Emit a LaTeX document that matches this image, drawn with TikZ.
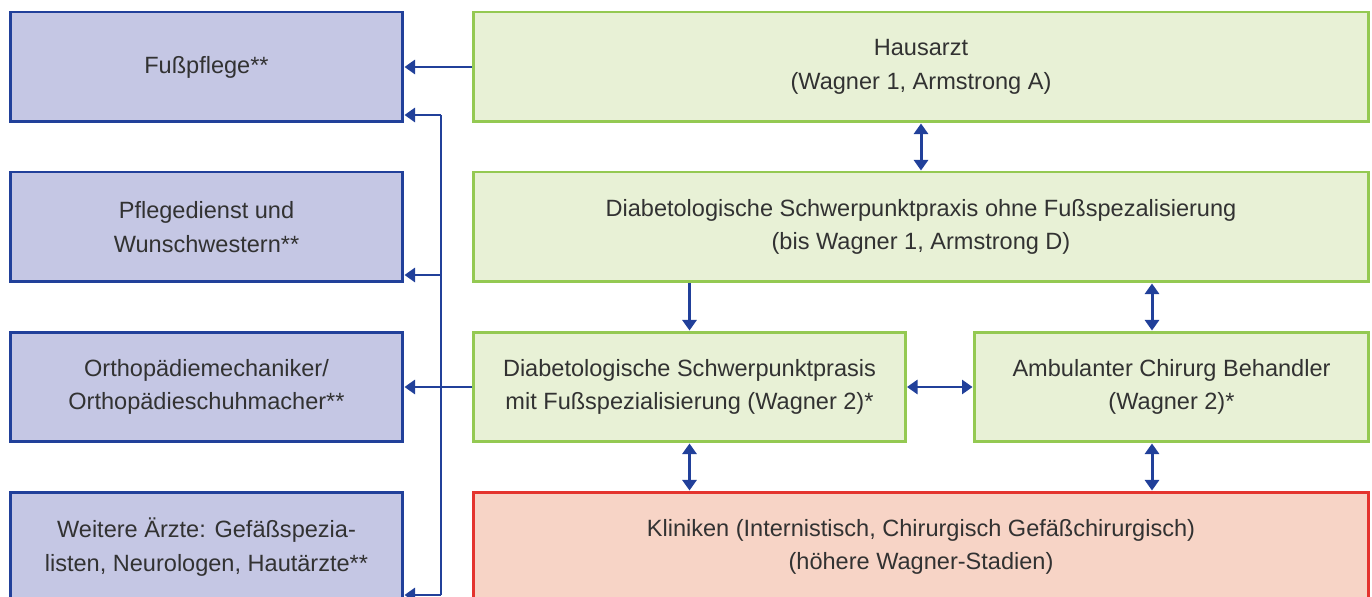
\documentclass[tikz,border=0pt]{standalone}
\usepackage{fontspec}
\setmainfont{Liberation Sans}
\usepackage{xcolor}
\usetikzlibrary{arrows.meta}

\definecolor{blueline}{RGB}{33,64,154}
\definecolor{bluefill}{RGB}{197,199,228}
\definecolor{greenline}{RGB}{148,201,82}
\definecolor{greenfill}{RGB}{232,241,214}
\definecolor{redline}{RGB}{228,52,46}
\definecolor{redfill}{RGB}{247,212,198}
\definecolor{textgrey}{RGB}{50,50,50}

\tikzset{
  box/.style={rectangle, line width=1.7pt, align=center, text=textgrey,
    font=\fontsize{13.4}{19.2}\selectfont, inner sep=0pt, minimum height=2.2cm},
  leftbox/.style={box, draw=blueline, fill=bluefill, minimum width=7.86cm},
  greenbox/.style={box, draw=greenline, fill=greenfill},
  redbox/.style={box, draw=redline, fill=redfill},
  conn/.style={draw=blueline, line width=1.7pt,
    arrows={-Triangle[length=6pt,width=8pt]}},
  biconn/.style={conn, arrows={Triangle[length=6pt,width=8pt]-Triangle[length=6pt,width=8pt]}},
  line/.style={draw=blueline, line width=1.7pt}
}

\begin{document}
\begin{tikzpicture}[x=0.02cm, y=-0.02cm]
    % Picture frame
    \useasboundingbox (0,0) rectangle (1372,597);
    \clip (0,0) rectangle (1372,597);

    % Left column
    \node[leftbox] (fusspflege) at (206.5,67) {Fußpflege**};
    \node[leftbox] (pflege) at (206.5,227) {Pflegedienst und\\Wunschwestern**};
    \node[leftbox] (ortho) at (206.5,387) {Orthopädiemechaniker/\\Orthopädieschuhmacher**};
    \node[leftbox] (aerzte) at (206.5,547) {Weitere Ärzte: Gefäßspezia-\\listen, Neurologen, Hautärzte**};

    % Right column
    \node[greenbox, minimum width=17.92cm] (hausarzt) at (921,67) {Hausarzt\\(Wagner 1, Armstrong A)};
    \node[greenbox, minimum width=17.92cm] (ohnefuss) at (921,227)
        {Diabetologische Schwerpunktpraxis ohne Fußspezalisierung\\(bis Wagner 1, Armstrong D)};
    \node[greenbox, minimum width=8.64cm] (mitfuss) at (689.5,387)
        {Diabetologische Schwerpunktprasis\\mit Fußspezialisierung (Wagner 2)*};
    \node[greenbox, minimum width=7.9cm] (chirurg) at (1171.5,387)
        {Ambulanter Chirurg Behandler\\(Wagner 2)*};
    \node[redbox, minimum width=17.92cm] (kliniken) at (921,547)
        {Kliniken (Internistisch, Chirurgisch Gefäßchirurgisch)\\(höhere Wagner-Stadien)};

    % Bus to the left column
    \coordinate (bustop) at (441,115);
    \coordinate (busmid) at (441,275);
    \coordinate (busend) at (441,595);
    \draw[line] (bustop) -- (busend);
    \draw[conn] (bustop) -- (bustop -| fusspflege.east);
    \draw[conn] (busmid) -- (busmid -| pflege.east);
    \draw[conn] (busend) -- (busend -| aerzte.east);

    % Connections
    \draw[conn] (hausarzt.west) -- (fusspflege.east);
    \draw[conn] (mitfuss.west) -- (ortho.east);
    \draw[biconn] (hausarzt.south -| 921,0) -- (ohnefuss.north -| 921,0);
    \draw[conn] (ohnefuss.south -| mitfuss.south) -- (mitfuss.north);
    \draw[biconn] (ohnefuss.south -| 1152,0) -- (chirurg.north -| 1152,0);
    \draw[biconn] (mitfuss.east) -- (chirurg.west);
    \draw[biconn] (mitfuss.south) -- (kliniken.north -| mitfuss.south);
    \draw[biconn] (chirurg.south -| 1152,0) -- (kliniken.north -| 1152,0);

\end{tikzpicture}
\end{document}
